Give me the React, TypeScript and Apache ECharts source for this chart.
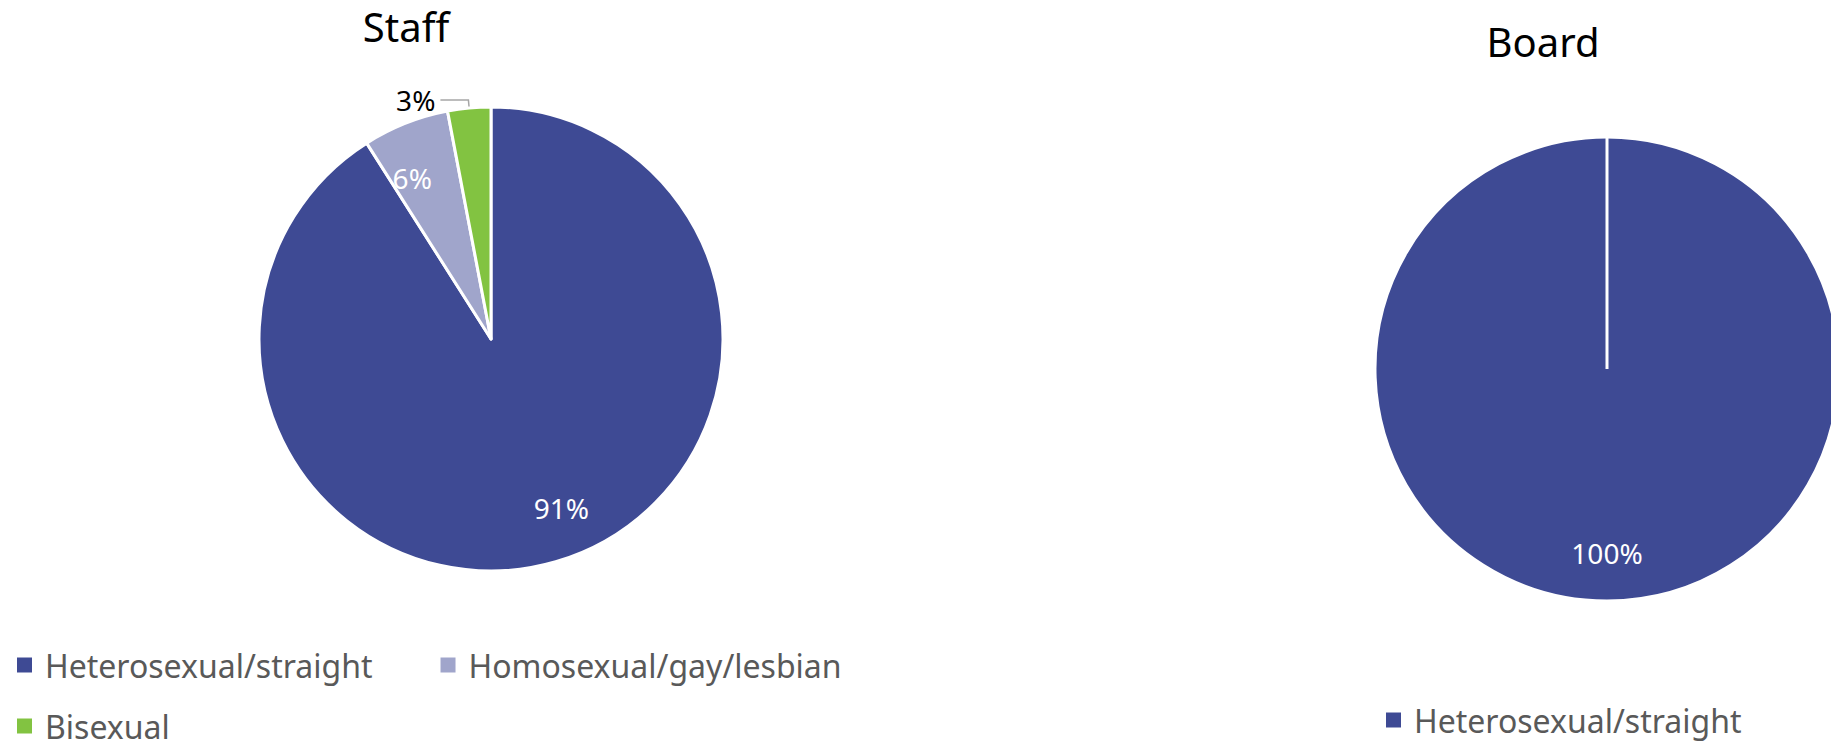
import React, { useEffect, useRef } from 'react';
import * as echarts from 'echarts';

// ---- data ----
const categories = ['Heterosexual/straight', 'Homosexual/gay/lesbian', 'Bisexual'];
const staffValues = [91, 6, 3];
const boardCategories = ['Heterosexual/straight'];
const boardValues = [100];
const chartTitles = ['Staff', 'Board'];
const colors = ['#3E4A94', '#A0A5CB', '#82C341'];

const FONT = '"Noto Sans", "DejaVu Sans", sans-serif';

export default function App() {
  const ref = useRef<HTMLDivElement>(null);

  useEffect(() => {
    const chart = echarts.init(ref.current!, null, { renderer: 'svg' });

    const R = 232;
    const labelInnerR = 130;
    const staffCenter = [491, 339];
    const boardCenter = [1607, 369];
    const outsideLabelIndex = 2;
    // small label nudges to mimic the original label placement
    const staffLabelOffsets = [[19, -8], [-11, 10], [0, 0]];

    const mainData = (names: string[], values: number[]) =>
      names.map((name, i) => ({ name, value: values[i], itemStyle: { color: colors[i] } }));

    const labelData = (names: string[], values: number[], withOutside: boolean) =>
      names.map((name, i) => {
        const item: any = { name, value: values[i] };
        if (withOutside && i === outsideLabelIndex) {
          item.label = { position: 'outside', color: '#000000' };
          item.labelLine = {
            show: true,
            length: 8,
            length2: 28,
            lineStyle: { color: '#A6A6A6', width: 1.5 },
          };
        } else if (withOutside) {
          item.label = { offset: staffLabelOffsets[i] };
        }
        return item;
      });

    const mainSeries = (center: number[], data: any[]) => ({
      type: 'pie',
      center,
      radius: R,
      startAngle: 90,
      clockwise: true,
      silent: true,
      avoidLabelOverlap: false,
      label: { show: false },
      labelLine: { show: false },
      itemStyle: { borderColor: '#ffffff', borderWidth: 3 },
      data,
    });

    const labelSeries = (center: number[], data: any[]) => ({
      type: 'pie',
      center,
      radius: [labelInnerR, R],
      startAngle: 90,
      clockwise: true,
      silent: true,
      avoidLabelOverlap: false,
      percentPrecision: 0,
      itemStyle: { color: 'rgba(0,0,0,0)', borderWidth: 0 },
      label: {
        show: true,
        position: 'inside',
        formatter: '{d}%',
        color: '#ffffff',
        fontSize: 28,
        fontFamily: FONT,
      },
      labelLine: { show: false },
      data,
    });

    const legendBase = {
      orient: 'horizontal',
      icon: 'rect',
      itemWidth: 15,
      itemHeight: 15,
      itemGap: 21,
      padding: 0,
      selectedMode: false,
      itemStyle: { borderWidth: 0 },
      textStyle: {
        color: '#595959',
        fontSize: 32,
        fontFamily: FONT,
        lineHeight: 40,
        padding: [0, 47, 0, 8],
      },
    };

    chart.setOption({
      animation: false,
      backgroundColor: '#ffffff',
      legend: [
        { ...legendBase, data: categories, left: 17, top: 645, width: 900 },
        { ...legendBase, data: boardCategories, left: 1386, top: 700, width: 440 },
      ],
      graphic: [
        {
          type: 'text',
          x: 406,
          y: 26,
          z: 100,
          style: {
            text: chartTitles[0],
            fontSize: 40,
            fontFamily: FONT,
            fill: '#000000',
            align: 'center',
            verticalAlign: 'middle',
          },
        },
        {
          type: 'text',
          x: 1543,
          y: 41,
          z: 100,
          style: {
            text: chartTitles[1],
            fontSize: 40,
            fontFamily: FONT,
            fill: '#000000',
            align: 'center',
            verticalAlign: 'middle',
          },
        },
        {
          type: 'line',
          z: 100,
          silent: true,
          shape: {
            x1: boardCenter[0],
            y1: boardCenter[1],
            x2: boardCenter[0],
            y2: boardCenter[1] - R,
          },
          style: { stroke: '#ffffff', lineWidth: 3 },
        },
      ],
      series: [
        mainSeries(staffCenter, mainData(categories, staffValues)),
        mainSeries(boardCenter, mainData(boardCategories, boardValues)),
        labelSeries(staffCenter, labelData(categories, staffValues, true)),
        labelSeries(boardCenter, labelData(boardCategories, boardValues, false)),
      ],
    });

    return () => {
      chart.dispose();
    };
  }, []);

  return (
    <div
      ref={ref}
      style={{ position: 'absolute', left: 0, top: 0, width: 1831, height: 741 }}
    />
  );
}
